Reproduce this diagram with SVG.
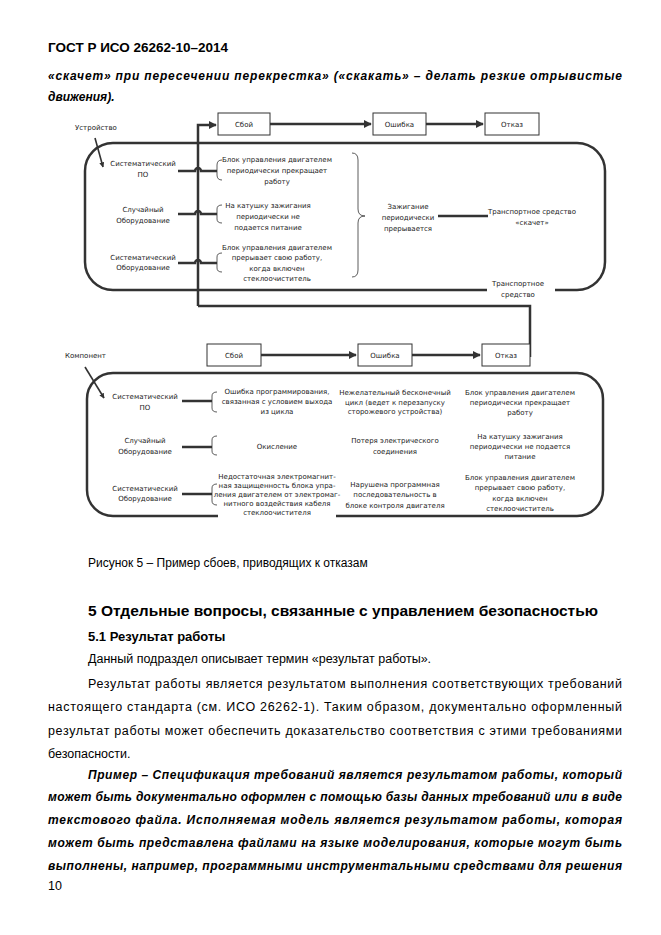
<svg xmlns="http://www.w3.org/2000/svg" width="661" height="935" viewBox="0 0 661 935">
<style>
.pg{font-family:"Liberation Sans",Arial,sans-serif;fill:#000}
.d{font-family:"DejaVu Sans",sans-serif;font-size:7px;fill:#222;text-anchor:middle}
.dl{font-family:"DejaVu Sans",sans-serif;font-size:7px;fill:#222}
.box{fill:#fff;stroke:#333;stroke-width:1}
.ln{fill:none;stroke:#333;stroke-width:2.5}
.br{fill:none;stroke:#333;stroke-width:0.8}
.thin{fill:none;stroke:#333;stroke-width:1.6}
</style>
<defs>
<marker id="ah" viewBox="0 0 10 10" refX="9" refY="5" markerWidth="3.2" markerHeight="3.2" orient="auto" markerUnits="strokeWidth">
<path d="M0 0 L10 5 L0 10 z" fill="#333"/>
</marker>
</defs>
<rect width="661" height="935" fill="#fff"/>

<g id="page-text">
<text class="pg" x="48" y="52" font-size="13.5" font-weight="bold">ГОСТ Р ИСО 26262-10–2014</text>
<text class="pg" x="48" y="80" font-size="12" font-weight="bold" font-style="italic" textLength="574" lengthAdjust="spacing">«скачет» при пересечении перекрестка» («скакать» – делать резкие отрывистые</text>
<text class="pg" x="48" y="101" font-size="12" font-weight="bold" font-style="italic">движения).</text>
<text class="pg" x="88" y="567" font-size="12">Рисунок 5 – Пример сбоев, приводящих к отказам</text>
<text class="pg" x="88" y="616" font-size="15.5" font-weight="bold">5 Отдельные вопросы, связанные с управлением безопасностью</text>
<text class="pg" x="88" y="641" font-size="13" font-weight="bold">5.1 Результат работы</text>
<text class="pg" x="88" y="663" font-size="12.5">Данный подраздел описывает термин «результат работы».</text>
<text class="pg" x="88" y="688" font-size="12.5" textLength="534" lengthAdjust="spacing">Результат работы является результатом выполнения соответствующих требований</text>
<text class="pg" x="48" y="711" font-size="12.5" textLength="574" lengthAdjust="spacing">настоящего стандарта (см. ИСО 26262-1). Таким образом, документально оформленный</text>
<text class="pg" x="48" y="735" font-size="12.5" textLength="574" lengthAdjust="spacing">результат работы может обеспечить доказательство соответствия с этими требованиями</text>
<text class="pg" x="48" y="758" font-size="12.5">безопасности.</text>
<text class="pg" x="88" y="779" font-size="12" font-weight="bold" font-style="italic" textLength="534" lengthAdjust="spacing">Пример –  Спецификация требований является результатом работы, который</text>
<text class="pg" x="48" y="801" font-size="12" font-weight="bold" font-style="italic" textLength="574" lengthAdjust="spacing">может быть документально оформлен с помощью базы данных требований или в виде</text>
<text class="pg" x="48" y="824" font-size="12" font-weight="bold" font-style="italic" textLength="574" lengthAdjust="spacing">текстового файла. Исполняемая модель является результатом работы, которая</text>
<text class="pg" x="48" y="847" font-size="12" font-weight="bold" font-style="italic" textLength="574" lengthAdjust="spacing">может быть представлена файлами на языке моделирования, которые могут быть</text>
<text class="pg" x="48" y="870" font-size="12" font-weight="bold" font-style="italic" textLength="574" lengthAdjust="spacing">выполнены, например, программными инструментальными средствами для решения</text>
<text class="pg" x="48" y="890" font-size="12.5">10</text>
</g>

<g id="connectors">
<!-- top device frame -->
<path class="ln" d="M487 290 H113 A28 28 0 0 1 85 262 V171 A28 28 0 0 1 113 143 H577 A28 28 0 0 1 605 171 V262 A28 28 0 0 1 577 290 H555"/>
<!-- top arrows -->
<path class="ln" d="M198 306 V125 H216" marker-end="url(#ah)"/>
<path class="ln" d="M270 124 H371" marker-end="url(#ah)"/>
<path class="ln" d="M426 124 H483" marker-end="url(#ah)"/>
<path class="ln" d="M198 306 H530 V357"/>
<path class="thin" d="M95 138 L103 167" marker-end="url(#ah)"/>
<!-- top rows -->
<path class="ln" d="M178 171 H195 A3 3 0 0 1 201 171 H217"/>
<path class="ln" d="M178 214 H195 A3 3 0 0 1 201 214 H217"/>
<path class="ln" d="M178 263 H195 A3 3 0 0 1 201 263 H217"/>
<path class="ln" d="M438 216 H488"/>
<!-- bottom component frame -->
<path class="ln" d="M218 516 H113 A26 26 0 0 1 87 490 V399 A26 26 0 0 1 113 373 H577 A26 26 0 0 1 603 399 V490 A26 26 0 0 1 577 516 H336"/>
<path class="ln" d="M261 355 H356" marker-end="url(#ah)"/>
<path class="ln" d="M412 355 H480" marker-end="url(#ah)"/>
<path class="thin" d="M85 367 L104 398" marker-end="url(#ah)"/>
<path class="ln" d="M182 401 H212"/>
<path class="ln" d="M182 447 H212"/>
<path class="ln" d="M182 494 H212"/>
</g>

<g id="braces">
<path class="br" d="M222 160 Q217 160 217 165 V175 Q217 180 222 180"/>
<path class="br" d="M222 205 Q217 205 217 209 V219 Q217 223 222 223"/>
<path class="br" d="M222 253 Q217 253 217 257 V268 Q217 272 222 272"/>
<path class="br" d="M352 153 Q358 153 358 160 V209 Q358 216 365 216 Q358 216 358 223 V270 Q358 277 352 277"/>
<path class="br" d="M217 392 Q212 392 212 396 V408 Q212 412 217 412"/>
<path class="br" d="M217 436 Q212 436 212 440 V451 Q212 455 217 455"/>
<path class="br" d="M217 484 Q212 484 212 488 V501 Q212 505 217 505"/>
</g>

<g id="label-device"><text class="dl" x="75" y="130">Устройство</text></g>
<g id="box-fault-top"><rect class="box" x="218" y="113" width="52" height="22"/><text class="d" x="244" y="127">Сбой</text></g>
<g id="box-error-top"><rect class="box" x="373" y="113" width="53" height="22"/><text class="d" x="399.5" y="127">Ошибка</text></g>
<g id="box-failure-top"><rect class="box" x="485" y="113" width="54" height="22"/><text class="d" x="512" y="127">Отказ</text></g>

<g id="t-sys-po"><text class="d" x="143" y="166">Систематический</text><text class="d" x="143" y="177">ПО</text></g>
<g id="t-rand-hw"><text class="d" x="143" y="212">Случайный</text><text class="d" x="143" y="223">Оборудование</text></g>
<g id="t-sys-hw"><text class="d" x="143" y="260">Систематический</text><text class="d" x="143" y="270">Оборудование</text></g>

<g id="t-e1"><text class="d" x="277" y="162">Блок управления двигателем</text><text class="d" x="277" y="173">периодически прекращает</text><text class="d" x="277" y="183.5">работу</text></g>
<g id="t-e2"><text class="d" x="268" y="208">На катушку зажигания</text><text class="d" x="268" y="219">периодически не</text><text class="d" x="268" y="229.5">подается питание</text></g>
<g id="t-e3"><text class="d" x="277" y="249.5">Блок управления двигателем</text><text class="d" x="277" y="260">прерывает свою работу,</text><text class="d" x="277" y="270.5">когда включен</text><text class="d" x="277" y="281">стеклоочиститель</text></g>

<g id="t-ignition"><text class="d" x="408" y="208.5">Зажигание</text><text class="d" x="408" y="219.5">периодически</text><text class="d" x="408" y="230.5">прерывается</text></g>
<g id="t-vehicle-jumps"><text class="d" x="532" y="213.5">Транспортное средство</text><text class="d" x="532" y="224.5">«скачет»</text></g>
<g id="t-vehicle"><text class="d" x="518" y="286">Транспортное</text><text class="d" x="518" y="297">средство</text></g>

<g id="label-component"><text class="dl" x="65" y="357.5">Компонент</text></g>
<g id="box-fault-bot"><rect class="box" x="207" y="344" width="54" height="22"/><text class="d" x="234" y="357.5">Сбой</text></g>
<g id="box-error-bot"><rect class="box" x="358" y="344" width="54" height="22"/><text class="d" x="385" y="357.5">Ошибка</text></g>
<g id="box-failure-bot"><rect class="box" x="482" y="344" width="48" height="22"/><text class="d" x="506" y="357.5">Отказ</text></g>

<g id="b-sys-po"><text class="d" x="145" y="398.5">Систематический</text><text class="d" x="145" y="409.5">ПО</text></g>
<g id="b-rand-hw"><text class="d" x="145" y="442.5">Случайный</text><text class="d" x="145" y="453.5">Оборудование</text></g>
<g id="b-sys-hw"><text class="d" x="145" y="490.5">Систематический</text><text class="d" x="145" y="500.5">Оборудование</text></g>

<g id="b-c1"><text class="d" x="277" y="393.5">Ошибка программирования,</text><text class="d" x="277" y="403.5">связанная с условием выхода</text><text class="d" x="277" y="413.5">из цикла</text></g>
<g id="b-c2"><text class="d" x="277" y="448.5">Окисление</text></g>
<g id="b-c3"><rect x="219" y="470" width="116" height="50" fill="#fff"/><text class="d" x="277" y="478.5">Недостаточная электромагнит-</text><text class="d" x="277" y="488">ная защищенность блока упра-</text><text class="d" x="277" y="497">ления двигателем от электромаг-</text><text class="d" x="277" y="506">нитного воздействия кабеля</text><text class="d" x="277" y="515">стеклоочистителя</text></g>

<g id="b-d1"><text class="d" x="395" y="394.5">Нежелательный бесконечный</text><text class="d" x="395" y="404.5">цикл (ведет к перезапуску</text><text class="d" x="395" y="413.5">сторожевого устройства)</text></g>
<g id="b-d2"><text class="d" x="395" y="442.5">Потеря электрического</text><text class="d" x="395" y="453.5">соединения</text></g>
<g id="b-d3"><text class="d" x="395" y="486.5">Нарушена программная</text><text class="d" x="395" y="496.5">последовательность в</text><text class="d" x="395" y="507.5">блоке контроля двигателя</text></g>

<g id="b-f1"><text class="d" x="520" y="394.5">Блок управления двигателем</text><text class="d" x="520" y="404.5">периодически прекращает</text><text class="d" x="520" y="414.5">работу</text></g>
<g id="b-f2"><text class="d" x="520" y="438.5">На катушку зажигания</text><text class="d" x="520" y="448.5">периодически не подается</text><text class="d" x="520" y="458.5">питание</text></g>
<g id="b-f3"><text class="d" x="520" y="479.5">Блок управления двигателем</text><text class="d" x="520" y="489.5">прерывает свою работу,</text><text class="d" x="520" y="500.5">когда включен</text><text class="d" x="520" y="510.5">стеклоочиститель</text></g>
</svg>
